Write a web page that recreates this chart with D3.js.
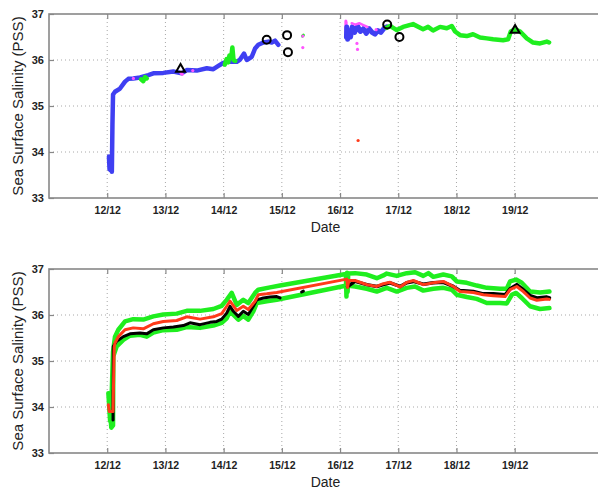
<!DOCTYPE html>
<html><head><meta charset="utf-8">
<script src="https://cdn.jsdelivr.net/npm/d3@7"></script>
<style>body{margin:0;background:#fff}svg{display:block}</style>
</head><body>
<script>
// ---------- DATA (day of December, salinity PSS) ----------
const dayTicks = [12,13,14,15,16,17,18,19];
const dayTickLabels = ["12/12","13/12","14/12","15/12","16/12","17/12","18/12","19/12"];
const salTicks = [33,34,35,36,37];

// top panel: blue trace (two segments)
const blueA = [[12.03,33.9],[12.04,33.62],[12.05,33.88],[12.06,33.6],[12.075,33.85],[12.08,33.57],[12.09,34.6],[12.1,35.25],[12.134,35.31],[12.22,35.38],[12.306,35.53],[12.363,35.59],[12.448,35.6],[12.564,35.62],[12.706,35.67],[12.792,35.71],[12.964,35.72],[13.136,35.75],[13.28,35.71],[13.366,35.78],[13.538,35.77],[13.71,35.82],[13.823,35.8],[13.909,35.87],[13.985,35.93],[14.053,35.96],[14.225,35.96],[14.282,36.01],[14.351,36.14],[14.397,36.0],[14.483,36.07],[14.54,36.25],[14.596,36.33],[14.682,36.38],[14.768,36.4],[14.826,36.38],[14.883,36.42],[14.94,36.33]];
const blueB = [[16.11,36.5],[16.115,36.72],[16.13,36.45],[16.15,36.64],[16.18,36.5],[16.21,36.72],[16.25,36.6],[16.3,36.74],[16.35,36.62],[16.4,36.68],[16.45,36.58],[16.5,36.68],[16.55,36.6],[16.6,36.56],[16.65,36.64],[16.7,36.6],[16.75,36.68],[16.8,36.72]];
// top panel: green traces
const greenA = [[12.58,35.58],[12.62,35.54],[12.65,35.63],[12.68,35.6]];
const greenB = [[14.02,35.9],[14.05,36.02],[14.08,35.95],[14.1,36.1],[14.13,36.05],[14.15,36.27],[14.17,36.0],[14.2,35.98]];
const greenC = [[15.355,36.52],[15.37,36.54]];
const greenD = [[16.8,36.7],[16.859,36.74],[16.974,36.65],[17.082,36.72],[17.254,36.78],[17.426,36.67],[17.512,36.72],[17.598,36.64],[17.718,36.72],[17.833,36.69],[17.919,36.74],[17.976,36.62],[18.062,36.54],[18.177,36.52],[18.285,36.56],[18.405,36.49],[18.521,36.47],[18.629,36.45],[18.801,36.43],[18.887,36.45],[18.933,36.62],[19.007,36.67],[19.093,36.62],[19.208,36.47],[19.316,36.38],[19.436,36.36],[19.552,36.4],[19.591,36.38]];
// top panel: magenta bits and stray points
const magentaA = [[16.1,36.85],[16.1,36.5],[16.105,36.82]];
const magentaB = [[16.2,36.8],[16.26,36.77],[16.33,36.8],[16.4,36.76],[16.47,36.72]];
const magentaPts = [[12.45,35.6],[13.27,35.71],[13.29,35.69],[13.47,35.77],[15.36,36.52],[15.36,36.27],[16.29,36.36],[16.3,36.23],[16.62,36.66]];
const redPts = [[16.31,34.25]];
const circlePts = [[14.74,36.44],[15.09,36.54],[15.105,36.17],[16.81,36.77],[17.02,36.5]];
const trianglePts = [[13.26,35.8],[19.007,36.65]];

// bottom panel
const blackA = [[12.1,34.37],[12.1,33.72],[12.105,35.32],[12.163,35.43],[12.277,35.53],[12.392,35.59],[12.564,35.61],[12.679,35.59],[12.792,35.68],[12.964,35.72],[13.136,35.74],[13.308,35.77],[13.423,35.83],[13.595,35.79],[13.766,35.84],[13.881,35.86],[13.967,35.91],[14.053,36.04],[14.11,36.19],[14.167,36.08],[14.253,35.97],[14.338,36.08],[14.424,36.01],[14.51,36.19],[14.569,36.33],[14.682,36.37],[14.797,36.39],[14.912,36.4],[14.969,36.37]];
const blackB = [[15.34,36.5],[15.37,36.52]];
const blackC = [[16.13,36.62],[16.258,36.73],[16.459,36.66],[16.631,36.62],[16.744,36.66],[16.859,36.7],[17.031,36.62],[17.146,36.7],[17.259,36.73],[17.431,36.67],[17.603,36.7],[17.775,36.71],[17.947,36.62],[18.062,36.53],[18.29,36.51],[18.462,36.46],[18.634,36.46],[18.835,36.44],[18.921,36.57],[19.036,36.66],[19.149,36.55],[19.265,36.42],[19.38,36.37],[19.552,36.39],[19.597,36.37]];
const redLine = [[12.02,34.05],[12.035,33.9],[12.1,33.9],[12.12,35.3],[12.134,35.39],[12.191,35.53],[12.306,35.68],[12.448,35.72],[12.62,35.7],[12.792,35.81],[12.964,35.86],[13.194,35.88],[13.366,35.96],[13.595,35.91],[13.823,35.96],[13.967,36.03],[14.053,36.19],[14.11,36.3],[14.225,36.1],[14.338,36.19],[14.424,36.12],[14.54,36.3],[14.596,36.44],[14.741,36.46],[14.912,36.49],[16.115,36.78],[16.13,36.6],[16.15,36.75],[16.258,36.75],[16.459,36.66],[16.631,36.62],[16.744,36.68],[16.859,36.71],[17.031,36.61],[17.146,36.71],[17.259,36.75],[17.431,36.66],[17.603,36.7],[17.775,36.73],[17.947,36.62],[18.062,36.51],[18.29,36.49],[18.462,36.44],[18.634,36.42],[18.835,36.4],[18.921,36.55],[19.036,36.62],[19.149,36.51],[19.265,36.37],[19.38,36.32],[19.552,36.35],[19.597,36.34]];
const greenUpper = [[12.02,34.3],[12.05,33.7],[12.08,34.4],[12.1,35.2],[12.134,35.53],[12.191,35.68],[12.306,35.86],[12.448,35.91],[12.62,35.9],[12.792,35.97],[12.964,36.01],[13.194,36.03],[13.366,36.09],[13.595,36.09],[13.823,36.13],[13.967,36.2],[14.053,36.33],[14.139,36.48],[14.225,36.22],[14.338,36.33],[14.424,36.26],[14.54,36.48],[14.596,36.55],[14.797,36.6],[14.969,36.64],[16.1,36.89],[16.11,36.4],[16.12,36.92],[16.13,36.5],[16.14,36.9],[16.258,36.91],[16.459,36.88],[16.631,36.8],[16.744,36.86],[16.802,36.9],[16.974,36.85],[17.146,36.91],[17.289,36.93],[17.431,36.85],[17.517,36.91],[17.603,36.83],[17.775,36.88],[17.919,36.84],[18.005,36.73],[18.177,36.7],[18.349,36.64],[18.521,36.59],[18.749,36.57],[18.864,36.57],[18.921,36.73],[19.024,36.77],[19.122,36.7],[19.265,36.51],[19.436,36.49],[19.597,36.51]];
const greenLower = [[12.04,34.1],[12.07,33.55],[12.1,33.6],[12.105,35.1],[12.163,35.32],[12.277,35.46],[12.392,35.55],[12.564,35.57],[12.679,35.53],[12.792,35.62],[12.964,35.67],[13.194,35.68],[13.366,35.74],[13.595,35.72],[13.823,35.77],[13.967,35.83],[14.053,35.93],[14.11,36.08],[14.253,35.9],[14.338,35.98],[14.424,35.9],[14.51,36.08],[14.569,36.26],[14.741,36.3],[14.912,36.33],[16.115,36.64],[16.258,36.62],[16.459,36.57],[16.631,36.51],[16.802,36.59],[16.974,36.51],[17.146,36.59],[17.289,36.62],[17.431,36.53],[17.603,36.57],[17.775,36.59],[17.919,36.55],[18.005,36.44],[18.177,36.39],[18.349,36.35],[18.521,36.26],[18.749,36.26],[18.864,36.25],[18.95,36.44],[19.024,36.48],[19.122,36.37],[19.265,36.19],[19.436,36.13],[19.597,36.15]];

// ---------- DRAW ----------
const W = 598, H = 491;
const FONT = "'Liberation Sans', Arial, Helvetica, sans-serif";
const C = {blue:"#3f3ff2", green:"#1fee1f", magenta:"#ff55ff", red:"#ff3a1a", black:"#000"};
const svg = d3.select("body").append("svg").attr("width", W).attr("height", H)
  .style("font-family", FONT);

const x = d3.scaleLinear().domain([11, 20.5]).range([49, 602]);

function panel(top, bottom) {
  const y = d3.scaleLinear().domain([33, 37]).range([bottom, top]);
  const g = svg.append("g");
  const [x0, x1] = x.range();
  // grid
  g.append("g").selectAll("line").data(dayTicks).join("line")
    .attr("x1", d => x(d)).attr("x2", d => x(d)).attr("y1", top).attr("y2", bottom)
    .attr("stroke", "#a8a8a8").attr("stroke-width", 1).attr("stroke-dasharray", "1,3");
  g.append("g").selectAll("line").data(salTicks.slice(1, -1)).join("line")
    .attr("x1", x0).attr("x2", x1).attr("y1", d => y(d)).attr("y2", d => y(d))
    .attr("stroke", "#a8a8a8").attr("stroke-width", 1).attr("stroke-dasharray", "1,3");
  // axes via d3 axis (inward ticks)
  const xb = g.append("g").attr("transform", `translate(0,${bottom})`)
    .call(d3.axisBottom(x).tickValues(dayTicks).tickFormat((d, i) => dayTickLabels[i]).tickSize(-5).tickPadding(9));
  const xt = g.append("g").attr("transform", `translate(0,${top})`)
    .call(d3.axisTop(x).tickValues(dayTicks).tickFormat("").tickSize(-5));
  const yl = g.append("g").attr("transform", `translate(${x0},0)`)
    .call(d3.axisLeft(y).tickValues(salTicks).tickFormat(d3.format("d")).tickSize(-5).tickPadding(5));
  [xb, xt, yl].forEach(a => {
    a.select(".domain").remove();
    a.selectAll("line").attr("stroke", "#888").attr("stroke-width", 1.2);
    a.selectAll("text").attr("fill", "#222").style("font-family", FONT)
      .style("font-size", "10.5px").style("font-weight", "bold");
  });
  yl.selectAll("text").style("font-size", "11px");
  // border
  g.append("rect").attr("x", x0).attr("y", top).attr("width", x1 - x0).attr("height", bottom - top)
    .attr("fill", "none").attr("stroke", "#888").attr("stroke-width", 1.6);
  // labels
  g.append("text").attr("x", (x0 + x1) / 2).attr("y", bottom + 34).attr("text-anchor", "middle")
    .style("font-size", "14px").attr("fill", "#222").text("Date");
  g.append("text").attr("transform", `translate(23,${(top + bottom) / 2}) rotate(-90)`)
    .attr("text-anchor", "middle").style("font-size", "15px").attr("fill", "#222")
    .text("Sea Surface Salinity (PSS)");
  const plot = g.append("g");
  return {y, plot};
}

function drawLine(p, data, color, w) {
  const line = d3.line().x(d => x(d[0])).y(d => p.y(d[1]));
  p.plot.append("path").datum(data).attr("d", line).attr("fill", "none")
    .attr("stroke", color).attr("stroke-width", w)
    .attr("stroke-linejoin", "round").attr("stroke-linecap", "round");
}
function drawDots(p, data, color, r) {
  p.plot.append("g").selectAll("circle").data(data).join("circle")
    .attr("cx", d => x(d[0])).attr("cy", d => p.y(d[1])).attr("r", r).attr("fill", color);
}

// top panel
const P1 = panel(14, 198);
drawLine(P1, blueA, C.blue, 4.5);
drawLine(P1, greenA, C.green, 4.5);
drawLine(P1, greenB, C.green, 4.5);
drawLine(P1, magentaA, C.magenta, 3);
drawLine(P1, blueB, C.blue, 5);
drawLine(P1, magentaB, C.magenta, 2.5);
drawLine(P1, greenC, C.green, 3);
drawLine(P1, greenD, C.green, 4.5);
drawDots(P1, magentaPts, C.magenta, 1.6);
drawDots(P1, redPts, C.red, 1.6);
P1.plot.append("g").selectAll("circle").data(circlePts).join("circle")
  .attr("cx", d => x(d[0])).attr("cy", d => P1.y(d[1])).attr("r", 4)
  .attr("fill", "none").attr("stroke", "#000").attr("stroke-width", 2);
P1.plot.append("g").selectAll("path").data(trianglePts).join("path")
  .attr("d", d3.symbol(d3.symbolTriangle, 34))
  .attr("transform", d => `translate(${x(d[0])},${P1.y(d[1])})`)
  .attr("fill", "none").attr("stroke", "#000").attr("stroke-width", 2);

// bottom panel
const P2 = panel(269, 453);
drawLine(P2, greenUpper, C.green, 4.5);
drawLine(P2, greenLower, C.green, 4.5);
drawLine(P2, blackA, C.black, 3);
drawLine(P2, blackB, C.black, 3);
drawLine(P2, blackC, C.black, 3.5);
drawLine(P2, redLine, C.red, 3);
</script>
</body></html>
